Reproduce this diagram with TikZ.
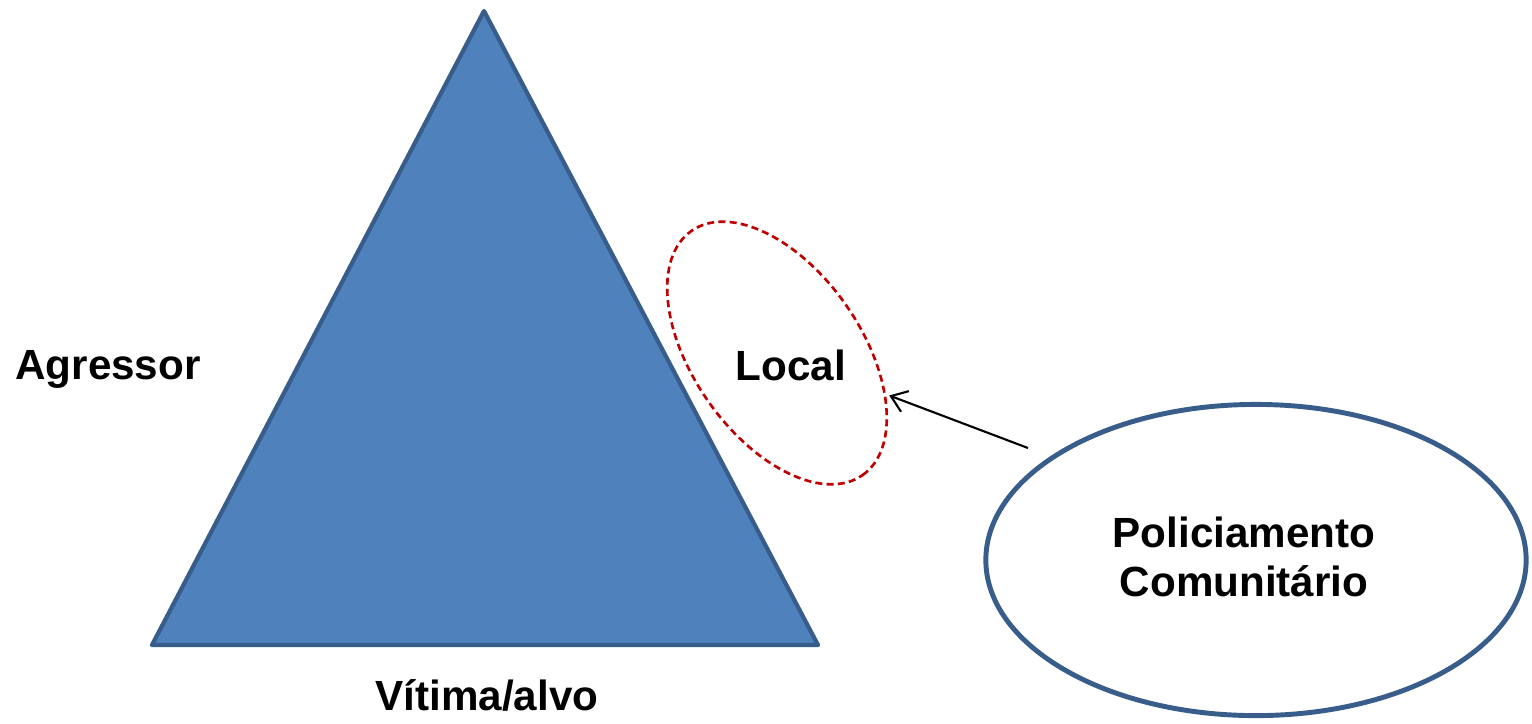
\documentclass[tikz,border=0pt]{standalone}
\usepackage{fontspec}
\setmainfont{Liberation Sans}
\usetikzlibrary{shapes.geometric,arrows.meta}
\definecolor{triblue}{RGB}{79,129,189}
\definecolor{triedge}{RGB}{56,93,138}
\definecolor{ringred}{RGB}{192,0,0}

\begin{document}
\begin{tikzpicture}[x=0.01cm,y=0.01cm]

%
% Styles
%
\tikzstyle{word} = [font=\fontsize{12}{13.8}\selectfont\bfseries,inner sep=0pt]
\tikzstyle{ring} = [ellipse,draw=ringred,line width=0.75pt,dash pattern=on 2pt off 1.2pt,inner sep=0pt]
\tikzstyle{actor} = [ellipse,draw=triedge,line width=1.4pt,inner sep=0pt]

\useasboundingbox (0,0) rectangle (1532,-723);

\draw[fill=triblue,draw=triedge,line width=1.2pt,line join=round] (484,-11) -- (152,-645) -- (818,-645) -- cycle;

\node[word,anchor=base] (agressor) at (108,-379) {Agressor};
\node[word,anchor=base] (vitima)   at (487,-710) {Vítima/alvo};

\node[ring,minimum width=2.98cm,minimum height=1.68cm,rotate=-55] (ring) at (777,-353) {};
\node[word,anchor=base] (local) at (791,-380) {Local};

\node[actor,minimum width=5.4cm,minimum height=3.11cm] (police) at (1256,-560) {};
\node[word,align=center] (policetext) at (1244,-557) {Policiamento\\Comunitário};

\coordinate (arrowstart) at (1028,-448);
\draw[-{Straight Barb[length=1.5mm,width=2.2mm]},line width=0.6pt,shorten >=1pt] (arrowstart) -- (ring);

\end{tikzpicture}
\end{document}
